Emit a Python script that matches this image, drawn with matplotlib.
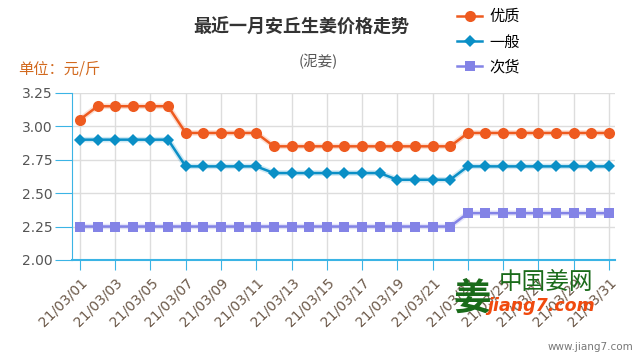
import matplotlib
matplotlib.use("Agg")
import matplotlib.pyplot as plt

plt.rcParams['font.family'] = ['Noto Sans CJK SC', 'DejaVu Sans']

days = list(range(1, 32))
dates = ["21/03/%02d" % d for d in days]
youzhi = [3.05] + [3.15] * 5 + [2.95] * 5 + [2.85] * 11 + [2.95] * 9
yiban = [2.90] * 6 + [2.70] * 5 + [2.65] * 7 + [2.60] * 4 + [2.70] * 9
cihuo = [2.25] * 22 + [2.35] * 9
names = ["优质", "一般", "次货"]
colors = ["#ee5a1f", "#0a8fc6", "#8383e6"]
yticks = [2.00, 2.25, 2.50, 2.75, 3.00, 3.25]

fig = plt.figure(figsize=(6.4, 3.6), dpi=100)
ax = fig.add_axes([0.1125, 0.278, 0.8485, 0.464])

series = [youzhi, yiban, cihuo]
markers = ["o", "D", "s"]
msizes = [8, 6, 7.5]
for vals, c, m, ms, nm in zip(series, colors, markers, msizes, names):
    # soft halo behind the line
    ax.plot(days, vals, color=c, lw=4, alpha=0.2, zorder=2, solid_capstyle="round")
    ax.plot(days, vals, color=c, lw=1.8, marker=m, markersize=ms,
            markeredgewidth=0, label=nm, zorder=3)

ax.set_xlim(0.55, 31.35)
ax.set_ylim(2.0, 3.25)
ax.set_yticks(yticks)
ax.set_yticklabels(["%.2f" % v for v in yticks], fontsize=10, color="#555555",
                   family="DejaVu Sans")
ax.set_xticks(days[::2])
ax.set_xticklabels(dates[::2], rotation=45, ha="right", va="top", fontsize=10,
                   color="#6b5848", family="DejaVu Sans", rotation_mode="anchor")
ax.tick_params(axis="x", length=7, color="#3bb4e5", pad=4)
ax.tick_params(axis="y", length=12, color="#3bb4e5", pad=2)
ax.grid(True, color="#dddddd", lw=1)
ax.set_axisbelow(True)
for s in ["top", "right"]:
    ax.spines[s].set_visible(False)
ax.spines["left"].set_color("#3bb4e5")
ax.spines["bottom"].set_color("#3bb4e5")
ax.spines["bottom"].set_linewidth(1.5)

fig.text(0.47, 0.925, "最近一月安丘生姜价格走势", ha="center", va="center",
         fontsize=13, fontweight="bold", color="#333333")
fig.text(0.497, 0.828, "(泥姜)", ha="center", va="center", fontsize=10.5, color="#555555")
fig.text(0.028, 0.808, "单位：元/斤", ha="left", va="center", fontsize=11, color="#d2691e")

fig.legend(loc="upper left", bbox_to_anchor=(0.705, 0.995), frameon=False,
           fontsize=11, handlelength=1.6, labelspacing=0.55, handletextpad=0.5,
           borderaxespad=0)

# watermark
fig.text(0.738, 0.172, "姜", ha="center", va="center", fontsize=27, fontweight="bold",
         color="#1a6b1a", zorder=10)
fig.text(0.853, 0.215, "中国姜网", ha="center", va="center", fontsize=17,
         color="#1a6b1a", zorder=10)
fig.text(0.845, 0.15, "jiang7.com", ha="center", va="center", fontsize=12.5,
         fontweight="bold", style="italic", color="#f04a0e", family="DejaVu Sans", zorder=10)
fig.text(0.99, 0.035, "www.jiang7.com", ha="right", va="center", fontsize=7.5,
         color="#777777", family="DejaVu Sans")

fig.savefig("out.png", dpi=100)
